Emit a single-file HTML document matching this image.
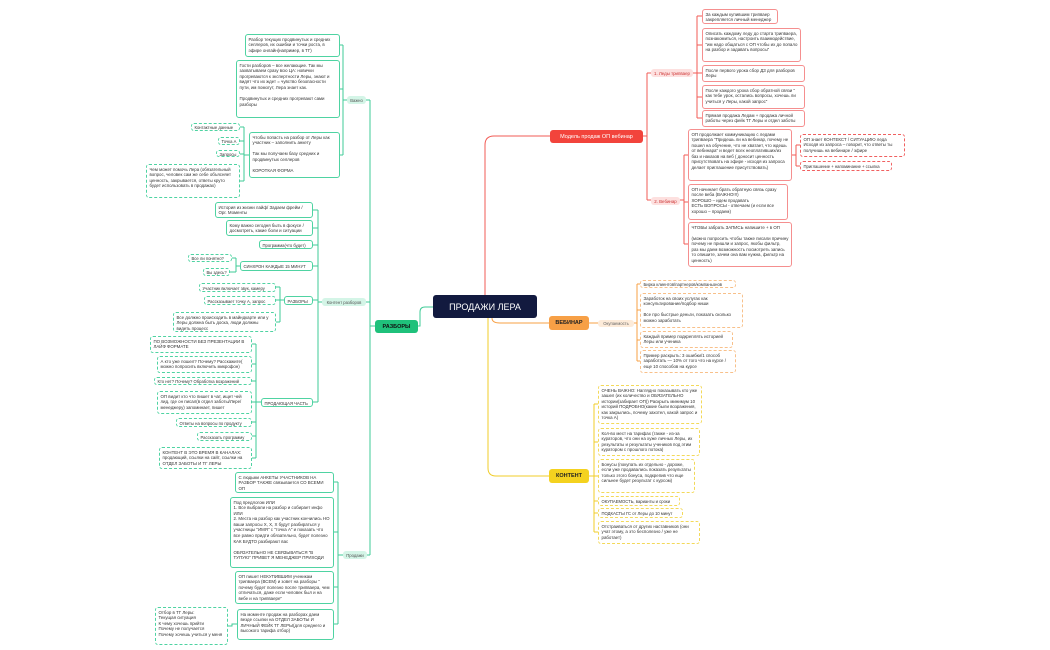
<!DOCTYPE html>
<html><head><meta charset="utf-8"><style>
body{margin:0;width:1050px;height:650px;background:#fff;position:relative;overflow:hidden;font-family:"Liberation Sans","DejaVu Sans",sans-serif}
.b{position:absolute;box-sizing:border-box;font-size:4.4px;line-height:5.6px;padding:1.5px 2.5px;border-radius:3px;color:#333;overflow:hidden;background:#fff}
.s{white-space:nowrap;font-size:4.2px}
.g{border:1px solid #4fd3a2}
.gd{border:1px dashed #4fd3a2}
.r{border:1px solid #f58f8f}
.rd{border:1px dashed #f06060}
.o{border:1px dashed #f8c08a}
.y{border:1px dashed #f3d95a}
.n{position:absolute;box-sizing:border-box;display:flex;align-items:center;justify-content:center;border-radius:3px;white-space:nowrap}
svg{position:absolute;left:0;top:0}
</style></head><body>
<svg width="1050" height="650" fill="none" stroke-width="1">
<g stroke="#f25b55">
<path d="M485 295 V145 Q485 136 494 136 H550"/>
<path d="M643 136 H647 M647 73 V200 M647 73 H651 M647 200 H651"/>
<path d="M693 73 H697 M697 16 V118 M697 16 H702 M697 45 H702 M697 73 H702 M697 97 H702 M697 118 H702"/>
<path d="M680 200 H684 M684 155 V244 M684 155 H688 M684 202 H688 M684 244 H688"/>
<path d="M792 155 H796 M796 145 V166 M796 145 H800 M796 166 H800"/>
</g>
<g stroke="#f7a046">
<path d="M492 318 Q492 323 500 323 H549"/>
<path d="M589 323 H598 M634 323 H637 M637 284 V361 M637 284 H640 M637 310 H640 M637 340 H640 M637 361 H640"/>
</g>
<g stroke="#f0cd2a">
<path d="M488 318 V468 Q488 476 496 476 H549"/>
<path d="M589 476 H594 M594 404 V532 M594 404 H598 M594 442 H598 M594 476 H598 M594 501 H598 M594 513 H598 M594 532 H598"/>
</g>
<g stroke="#3fcb97">
<path d="M433 307 H425 Q420 307 420 312 V326 H418"/>
<path d="M375 326 H370 M370 100 V555 M370 100 H366 M370 302 H366 M370 555 H367"/>
<path d="M347 100 H343 M343 45 V155 M343 45 H340 M343 89 H340 M343 155 H340"/>
<path d="M249 155 H244 M244 127 V181 M244 127 H240 M244 141 H240 M244 154 H240 M244 181 H240"/>
<path d="M322 302 H318 M318 210 V402 M318 210 H313 M318 228 H313 M318 245 H313 M318 266 H313 M318 300 H313 M318 402 H313"/>
<path d="M240 266 H236 M236 258 V272 M236 258 H232 M236 272 H230"/>
<path d="M284 300 H280 M280 287 V322 M280 287 H276 M280 300 H276 M280 322 H276"/>
<path d="M261 402 H256 M256 344 V458 M256 344 H252 M256 364 H252 M256 381 H252 M256 402 H252 M256 422 H252 M256 436 H252 M256 458 H252"/>
<path d="M343 555 H338 M338 482 V624 M338 482 H334 M338 532 H334 M338 587 H334 M338 624 H334"/>
<path d="M237 624 H232 V626 H228"/>
</g>
</svg>

<div class="n" style="left:433px;top:295px;width:104px;height:23px;background:#121a3f;color:#fff;font-size:9px">ПРОДАЖИ ЛЕРА</div>

<!-- RED -->
<div class="n" style="left:550px;top:130px;width:93px;height:13px;background:#f2443c;color:#fff;font-size:5.5px">Модель продаж ОП вебинар</div>
<div class="n" style="left:651px;top:69px;width:42px;height:8px;background:#fde0df;color:#c33;font-size:4.4px">1. Леды трипваер</div>
<div class="n" style="left:651px;top:197px;width:29px;height:8px;background:#fde0df;color:#c33;font-size:4.4px">2. Вебинар</div>
<div class="b r" style="left:702px;top:9px;width:76px;height:15px">За каждым купившим трипваер закрепляется личный менеджер</div>
<div class="b r" style="left:702px;top:28px;width:99px;height:34px">Описать каждому леду до старта трипваера, познакомиться, настроить взаимодействие, "им надо общаться с ОП чтобы их до попало на разбор и задавать вопросы"</div>
<div class="b r" style="left:702px;top:65px;width:103px;height:17px">После первого урока сбор ДЗ для разборов Леры</div>
<div class="b r" style="left:702px;top:85px;width:103px;height:24px">После каждого урока сбор обратной связи " как тебе урок, остались вопросы, хочешь ли учиться у Леры, какой запрос"</div>
<div class="b r" style="left:702px;top:110px;width:103px;height:17px">Прямая продажа Ледам + продажа личной работы через фейк ТГ Леры и отдел заботы</div>
<div class="b r" style="left:688px;top:129px;width:104px;height:52px">ОП продолжает коммуникацию с ледами трипваера "Придешь ли на вебинар, почему не пошел на обучение, что не хватает, что ждешь от вебинара" и ведет всех неоплативших/из баз и наказов на веб ( доносит ценность присутствовать на эфире - исходя из запроса делает приглашение присутствовать)</div>
<div class="b r" style="left:688px;top:184px;width:100px;height:36px">ОП начинает брать обратную связь сразу после вебa (ВАЖНО!!!)<br>ХОРОШО – идем продавать<br>ЕСТЬ ВОПРОСЫ - отвечаем (и если все хорошо – продаем)</div>
<div class="b r" style="left:688px;top:222px;width:104px;height:45px">ЧТОБЫ забрать ЗАПИСЬ напишите + в ОП<br><br>(можно попросить чтобы также писали причину почему не пришли и запрос, якобы фильтр, раз мы даем возможность посмотреть запись то опишите, зачем она вам нужна, фильтр на ценность)</div>
<div class="b rd" style="left:800px;top:134px;width:105px;height:23px">ОП знает КОНТЕКСТ / СИТУАЦИЮ леда Исходя из запроса – говорит, что ответы ты получишь на вебинаре / эфире</div>
<div class="b rd s" style="left:800px;top:161px;width:92px;height:10px">Приглашение + напоминание + ссылка</div>

<!-- ORANGE -->
<div class="n" style="left:549px;top:316px;width:40px;height:14px;background:#f7a046;color:#222;font-size:5.5px;font-weight:bold">ВЕБИНАР</div>
<div class="n" style="left:598px;top:320px;width:36px;height:7px;background:#fdebd9;color:#666;font-size:4.2px">Окупаемость</div>
<div class="b o s" style="left:640px;top:280px;width:96px;height:8px;padding-top:1px">Бирка клиентов/партнеров/компаньонов</div>
<div class="b o" style="left:640px;top:293px;width:103px;height:35px">Заработок на своих услугах как консультирование/подбор ниши<br><br>Все про быстрые деньги, показать сколько можно заработать</div>
<div class="b o" style="left:640px;top:331px;width:93px;height:17px">Каждый пример подкреплять историей Леры или ученика</div>
<div class="b o" style="left:640px;top:350px;width:96px;height:23px">Пример раскрыть: 3 ошибки/1 способ заработать — 10% от того что на курсе / еще 10 способов на курсе</div>

<!-- YELLOW -->
<div class="n" style="left:549px;top:469px;width:40px;height:14px;background:#f4d21f;color:#222;font-size:5.5px;font-weight:bold">КОНТЕНТ</div>
<div class="b y" style="left:598px;top:385px;width:104px;height:39px">ОЧЕНЬ ВАЖНО: Наглядно показывать кто уже зашел (их количество и ОБЯЗАТЕЛЬНО истории(забирает ОП)) Раскрыть минимум 10 историй ПОДРОБНО(какие были возражения, как закрылись, почему захотел, какой запрос и точка А)</div>
<div class="b y" style="left:598px;top:428px;width:102px;height:28px">Кол-во мест на тарифах (также - из-за кураторов, что они на хуже личных Леры, их результаты и результаты учеников под этим куратором с прошлого потока)</div>
<div class="b y" style="left:598px;top:459px;width:97px;height:34px">Бонусы (покупать их отдельно - дороже, если уже продавались показать результаты только этого бонуса, подкрепив что еще сильнее будет результат с курсом)</div>
<div class="b y s" style="left:598px;top:496px;width:82px;height:10px">ОКУПАЕМОСТЬ, варианты и сроки</div>
<div class="b y s" style="left:598px;top:508px;width:85px;height:10px">ПОДКАСТЫ ГС от Леры до 10 минут</div>
<div class="b y" style="left:598px;top:521px;width:102px;height:23px">Отстраиваться от других наставников (они учат этому, а это бесполезно / уже не работает)</div>

<!-- GREEN -->
<div class="n" style="left:375px;top:320px;width:43px;height:13px;background:#1fc17b;color:#111;font-size:5.5px;font-weight:bold">РАЗБОРЫ</div>
<div class="n" style="left:347px;top:96px;width:19px;height:8px;background:#d4f5e7;color:#555;font-size:4.2px">Важно</div>
<div class="n" style="left:322px;top:298px;width:44px;height:8px;background:#d4f5e7;color:#555;font-size:4.2px">Контент разборов</div>
<div class="n" style="left:343px;top:551px;width:24px;height:8px;background:#d4f5e7;color:#555;font-size:4.2px">Продажи</div>

<div class="b g" style="left:245px;top:34px;width:95px;height:23px">Разбор текущих продвинутых и средних селлеров, их ошибки и точки роста, в эфире онлайн(например, в ТГ)</div>
<div class="b g" style="left:236px;top:60px;width:104px;height:58px">Гости разборов – все желающие. Так мы захватываем сразу всю ЦА: новички прогреваются к экспертности Леры, знают и видят что их ждет = чувство безопасности пути, им помогут, Лера знает как.<br><br>Продвинутых и средних прогревают сами разборы</div>
<div class="b g" style="left:249px;top:132px;width:91px;height:46px">Чтобы попасть на разбор от Леры как участник – заполнить анкету<br><br>Так мы получаем базу средних и продвинутых селлеров<br><br>КОРОТКАЯ ФОРМА</div>
<div class="b gd s" style="left:191px;top:123px;width:49px;height:8px;padding-top:1px">Контактные данные</div>
<div class="b gd s" style="left:218px;top:137px;width:22px;height:8px;padding-top:1px">Точка А</div>
<div class="b gd s" style="left:216px;top:150px;width:24px;height:7px;padding-top:0.5px">Запросы</div>
<div class="b gd" style="left:146px;top:164px;width:94px;height:34px">Чем может помочь Лера (обязательный вопрос, человек сам же себе объясняет ценность, закрывается, ответы круто будет использовать в продажах)</div>

<div class="b g" style="left:215px;top:202px;width:98px;height:16px">История из жизни лайф/ Задаем фрейм / Орг. Моменты</div>
<div class="b g" style="left:226px;top:220px;width:87px;height:16px">Кому важно сегодня быть в фокусе / досмотреть, какие боли и ситуации</div>
<div class="b g s" style="left:259px;top:240px;width:54px;height:9px">Программа(что будет)</div>
<div class="b g s" style="left:240px;top:261px;width:73px;height:10px;padding-top:2px">СИНХРОН КАЖДЫЕ 15 МИНУТ</div>
<div class="b gd s" style="left:188px;top:254px;width:44px;height:8px;padding-top:1px">Все ли понятно?</div>
<div class="b gd s" style="left:203px;top:268px;width:27px;height:8px;padding-top:1px">Вы здесь?</div>
<div class="b g s" style="left:284px;top:296px;width:29px;height:9px;padding-top:2px">РАЗБОРЫ</div>
<div class="b gd s" style="left:199px;top:283px;width:77px;height:9px">Участник включает звук, камеру</div>
<div class="b gd s" style="left:204px;top:296px;width:72px;height:9px">Рассказывает точку А, запрос</div>
<div class="b gd" style="left:173px;top:312px;width:103px;height:20px">Все должно происходить в майндкарте или у Леры должна быть доска, люди должны видеть процесс</div>

<div class="b g s" style="left:261px;top:398px;width:52px;height:9px;padding-top:2px">ПРОДАЮЩАЯ ЧАСТЬ</div>
<div class="b gd" style="left:150px;top:336px;width:102px;height:17px">ПО ВОЗМОЖНОСТИ БЕЗ ПРЕЗЕНТАЦИИ В ЛАЙФ ФОРМАТЕ</div>
<div class="b gd" style="left:157px;top:356px;width:95px;height:17px">А кто уже пошел? Почему? Расскажите( можно попросить включить микрофон)</div>
<div class="b gd s" style="left:154px;top:377px;width:98px;height:8px;padding-top:1px">Кто нет? Почему? Обработка возражений</div>
<div class="b gd" style="left:157px;top:391px;width:95px;height:23px">ОП видит кто что пишет в чат, ищет чей лид, где он писал(в отдел заботы/Лере/менеджеру) запоминает, пишет</div>
<div class="b gd s" style="left:176px;top:418px;width:76px;height:9px">Ответы на вопросы по продукту</div>
<div class="b gd s" style="left:197px;top:432px;width:55px;height:9px">Рассказать программу</div>
<div class="b gd" style="left:159px;top:447px;width:93px;height:22px">КОНТЕНТ В ЭТО ВРЕМЯ В КАНАЛАХ: продающий, ссылки на сайт, ссылки на ОТДЕЛ ЗАБОТЫ И ТГ ЛЕРЫ</div>

<div class="b g" style="left:235px;top:472px;width:99px;height:21px">С людьми АНКЕТЫ УЧАСТНИКОВ НА РАЗБОР ТАКЖЕ связывается СО ВСЕМИ ОП</div>
<div class="b g" style="left:230px;top:497px;width:104px;height:71px">Под предлогом ИЛИ<br>1. Все выбрали на разбор и собирает инфо ИЛИ<br>2. Места на разбор как участник кончились НО ваши запросы Х, Х, Х будут разбираться у участницы "ИМЯ" с "точка А" и показать что все равно придти обязательно, будет полезно КАК БУДТО разбирают вас<br><br>ОБЯЗАТЕЛЬНО НЕ СВЯЗЫВАТЬСЯ "В ТУПУЮ" ПРИВЕТ Я МЕНЕДЖЕР ПРИХОДИ</div>
<div class="b g" style="left:235px;top:571px;width:99px;height:33px">ОП пишет НЕКУПИВШИМ ученикам трипваера (ВСЕМ) и зовет на разборы " почему будет полезно после трипваера, чем отличаться, даже если человек был и на вебе и на трипваере"</div>
<div class="b g" style="left:237px;top:609px;width:97px;height:31px">На моменте продаж на разборах даем везде ссылки на ОТДЕЛ ЗАБОТЫ И ЛИЧНЫЙ ФЕЙК ТГ ЛЕРЫ(для среднего и высокого тарифа отбор)</div>
<div class="b gd" style="left:155px;top:607px;width:73px;height:38px">Отбор в ТГ Леры:<br>Текущая ситуация<br>К чему хочешь прийти<br>Почему не получается<br>Почему хочешь учиться у меня</div>
</body></html>
